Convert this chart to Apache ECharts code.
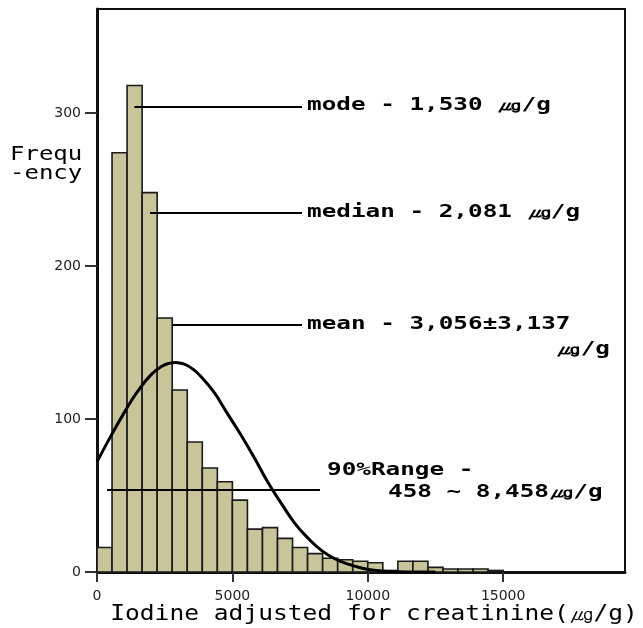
<!DOCTYPE html>
<html>
<head>
<meta charset="utf-8">
<script src="https://cdn.jsdelivr.net/npm/echarts@6/dist/echarts.min.js"></script>
<style>
  html, body { margin: 0; padding: 0; background: #fff; }
  #chart { width: 643px; height: 628px; }
</style>
</head>
<body>
<div id="chart"></div>
<script>
// histogram bins: 9 bins per 5000 units
const binWidth = 5000 / 9;
const binCounts = [16, 274, 318, 248, 166, 119, 85, 68, 59, 47, 28, 29, 22, 16, 12, 9, 8, 7, 6, 1, 7, 7, 3, 2, 2, 2, 1];

// normal curve
const curveX = [0, 500, 1000, 1500, 2000, 2400, 2700, 2900, 3100, 3300, 3550, 3800, 4300, 4800, 5300, 5800, 6300, 6800, 7300, 7800, 8300, 8800, 9300, 9800, 10300, 10800, 11500, 12500];
const curveY = [72, 88.5, 104, 118, 129, 134.5, 136.5, 137, 136.5, 135.3, 132.5, 128.5, 118, 104, 90, 75, 59, 45, 32, 22, 14, 8.5, 5, 2.5, 1, 0.3, 0, 0];

const xTicks = [0, 5000, 10000, 15000];
const yTicks = [0, 100, 200, 300];

const annoFont = { fontFamily: "DejaVu Sans Mono", fontSize: 17, fontWeight: "bold", fill: "#000" };
const annoScale = 1.43;

function annoText(text, x, y, align) {
  return {
    type: "text", x: x, y: y, scaleX: annoScale,
    style: Object.assign({ text: text, align: align || "left", verticalAlign: "middle" }, annoFont)
  };
}

const chart = echarts.init(document.getElementById("chart"));

const option = {
  animation: false,
  grid: {
    left: 97, right: 18, top: 9, bottom: 56,
    show: true, borderColor: "#111", borderWidth: 2
  },
  xAxis: {
    type: "value",
    min: 0,
    max: 19500,
    axisLine: { show: true, lineStyle: { color: "#111", width: 3 } },
    axisTick: { show: true, length: 10, lineStyle: { color: "#333", width: 2 }, customValues: xTicks },
    axisLabel: {
      color: "#222", fontSize: 14, fontFamily: "DejaVu Sans", margin: 17,
      customValues: xTicks, formatter: v => String(v)
    },
    splitLine: { show: false }
  },
  yAxis: {
    type: "value",
    min: 0,
    max: 368,
    axisLine: { show: true, lineStyle: { color: "#111", width: 3 } },
    axisTick: { show: true, length: 12, lineStyle: { color: "#333", width: 2 }, customValues: yTicks },
    axisLabel: {
      color: "#222", fontSize: 14, fontFamily: "DejaVu Sans", margin: 16,
      customValues: yTicks, formatter: v => String(v)
    },
    splitLine: { show: false }
  },
  series: [
    {
      type: "custom",
      data: binCounts.map((c, i) => [i * binWidth, (i + 1) * binWidth, c]),
      encode: { x: [0, 1], y: 2 },
      renderItem(params, api) {
        const topLeft = api.coord([api.value(0), api.value(2)]);
        const bottomRight = api.coord([api.value(1), 0]);
        return {
          type: "rect",
          shape: {
            x: topLeft[0], y: topLeft[1],
            width: bottomRight[0] - topLeft[0],
            height: bottomRight[1] - topLeft[1]
          },
          style: { fill: "#c9c59b", stroke: "#1a1a1a", lineWidth: 1.6 }
        };
      },
      z: 2
    },
    {
      type: "line",
      data: curveX.map((x, i) => [x, curveY[i]]),
      smooth: 0.5,
      showSymbol: false,
      lineStyle: { color: "#000", width: 3 },
      z: 3,
      markLine: {
        silent: true,
        symbol: ["none", "none"],
        label: { show: false },
        lineStyle: { color: "#000", width: 2, type: "solid" },
        data: [
          [{ coord: [1381, 304] }, { coord: [7570, 304] }],
          [{ coord: [1957, 235] }, { coord: [7570, 235] }],
          [{ coord: [2806, 161.5] }, { coord: [7570, 161.5] }],
          [{ coord: [369, 53.5] }, { coord: [8235, 53.5] }]
        ]
      }
    }
  ],
  graphic: [
    annoText("mode - 1,530 ㎍/g", 307, 106),
    annoText("median - 2,081 ㎍/g", 307, 213),
    annoText("mean - 3,056±3,137", 307, 325),
    annoText("㎍/g", 610, 350, "right"),
    annoText("90%Range -", 327, 471),
    annoText("458 ~ 8,458㎍/g", 388, 493),
    {
      type: "text", x: 10, y: 155, scaleX: 1.2,
      style: { text: "Frequ", fontFamily: "DejaVu Sans Mono", fontSize: 20, fill: "#000", verticalAlign: "middle" }
    },
    {
      type: "text", x: 10, y: 174, scaleX: 1.2,
      style: { text: "-ency", fontFamily: "DejaVu Sans Mono", fontSize: 20, fill: "#000", verticalAlign: "middle" }
    },
    {
      type: "text", x: 374, y: 615, scaleX: 1.17,
      style: { text: "Iodine adjusted for creatinine(㎍/g)", fontFamily: "DejaVu Sans Mono", fontSize: 21, fill: "#000", align: "center", verticalAlign: "middle" }
    }
  ]
};

chart.setOption(option);
</script>
</body>
</html>
